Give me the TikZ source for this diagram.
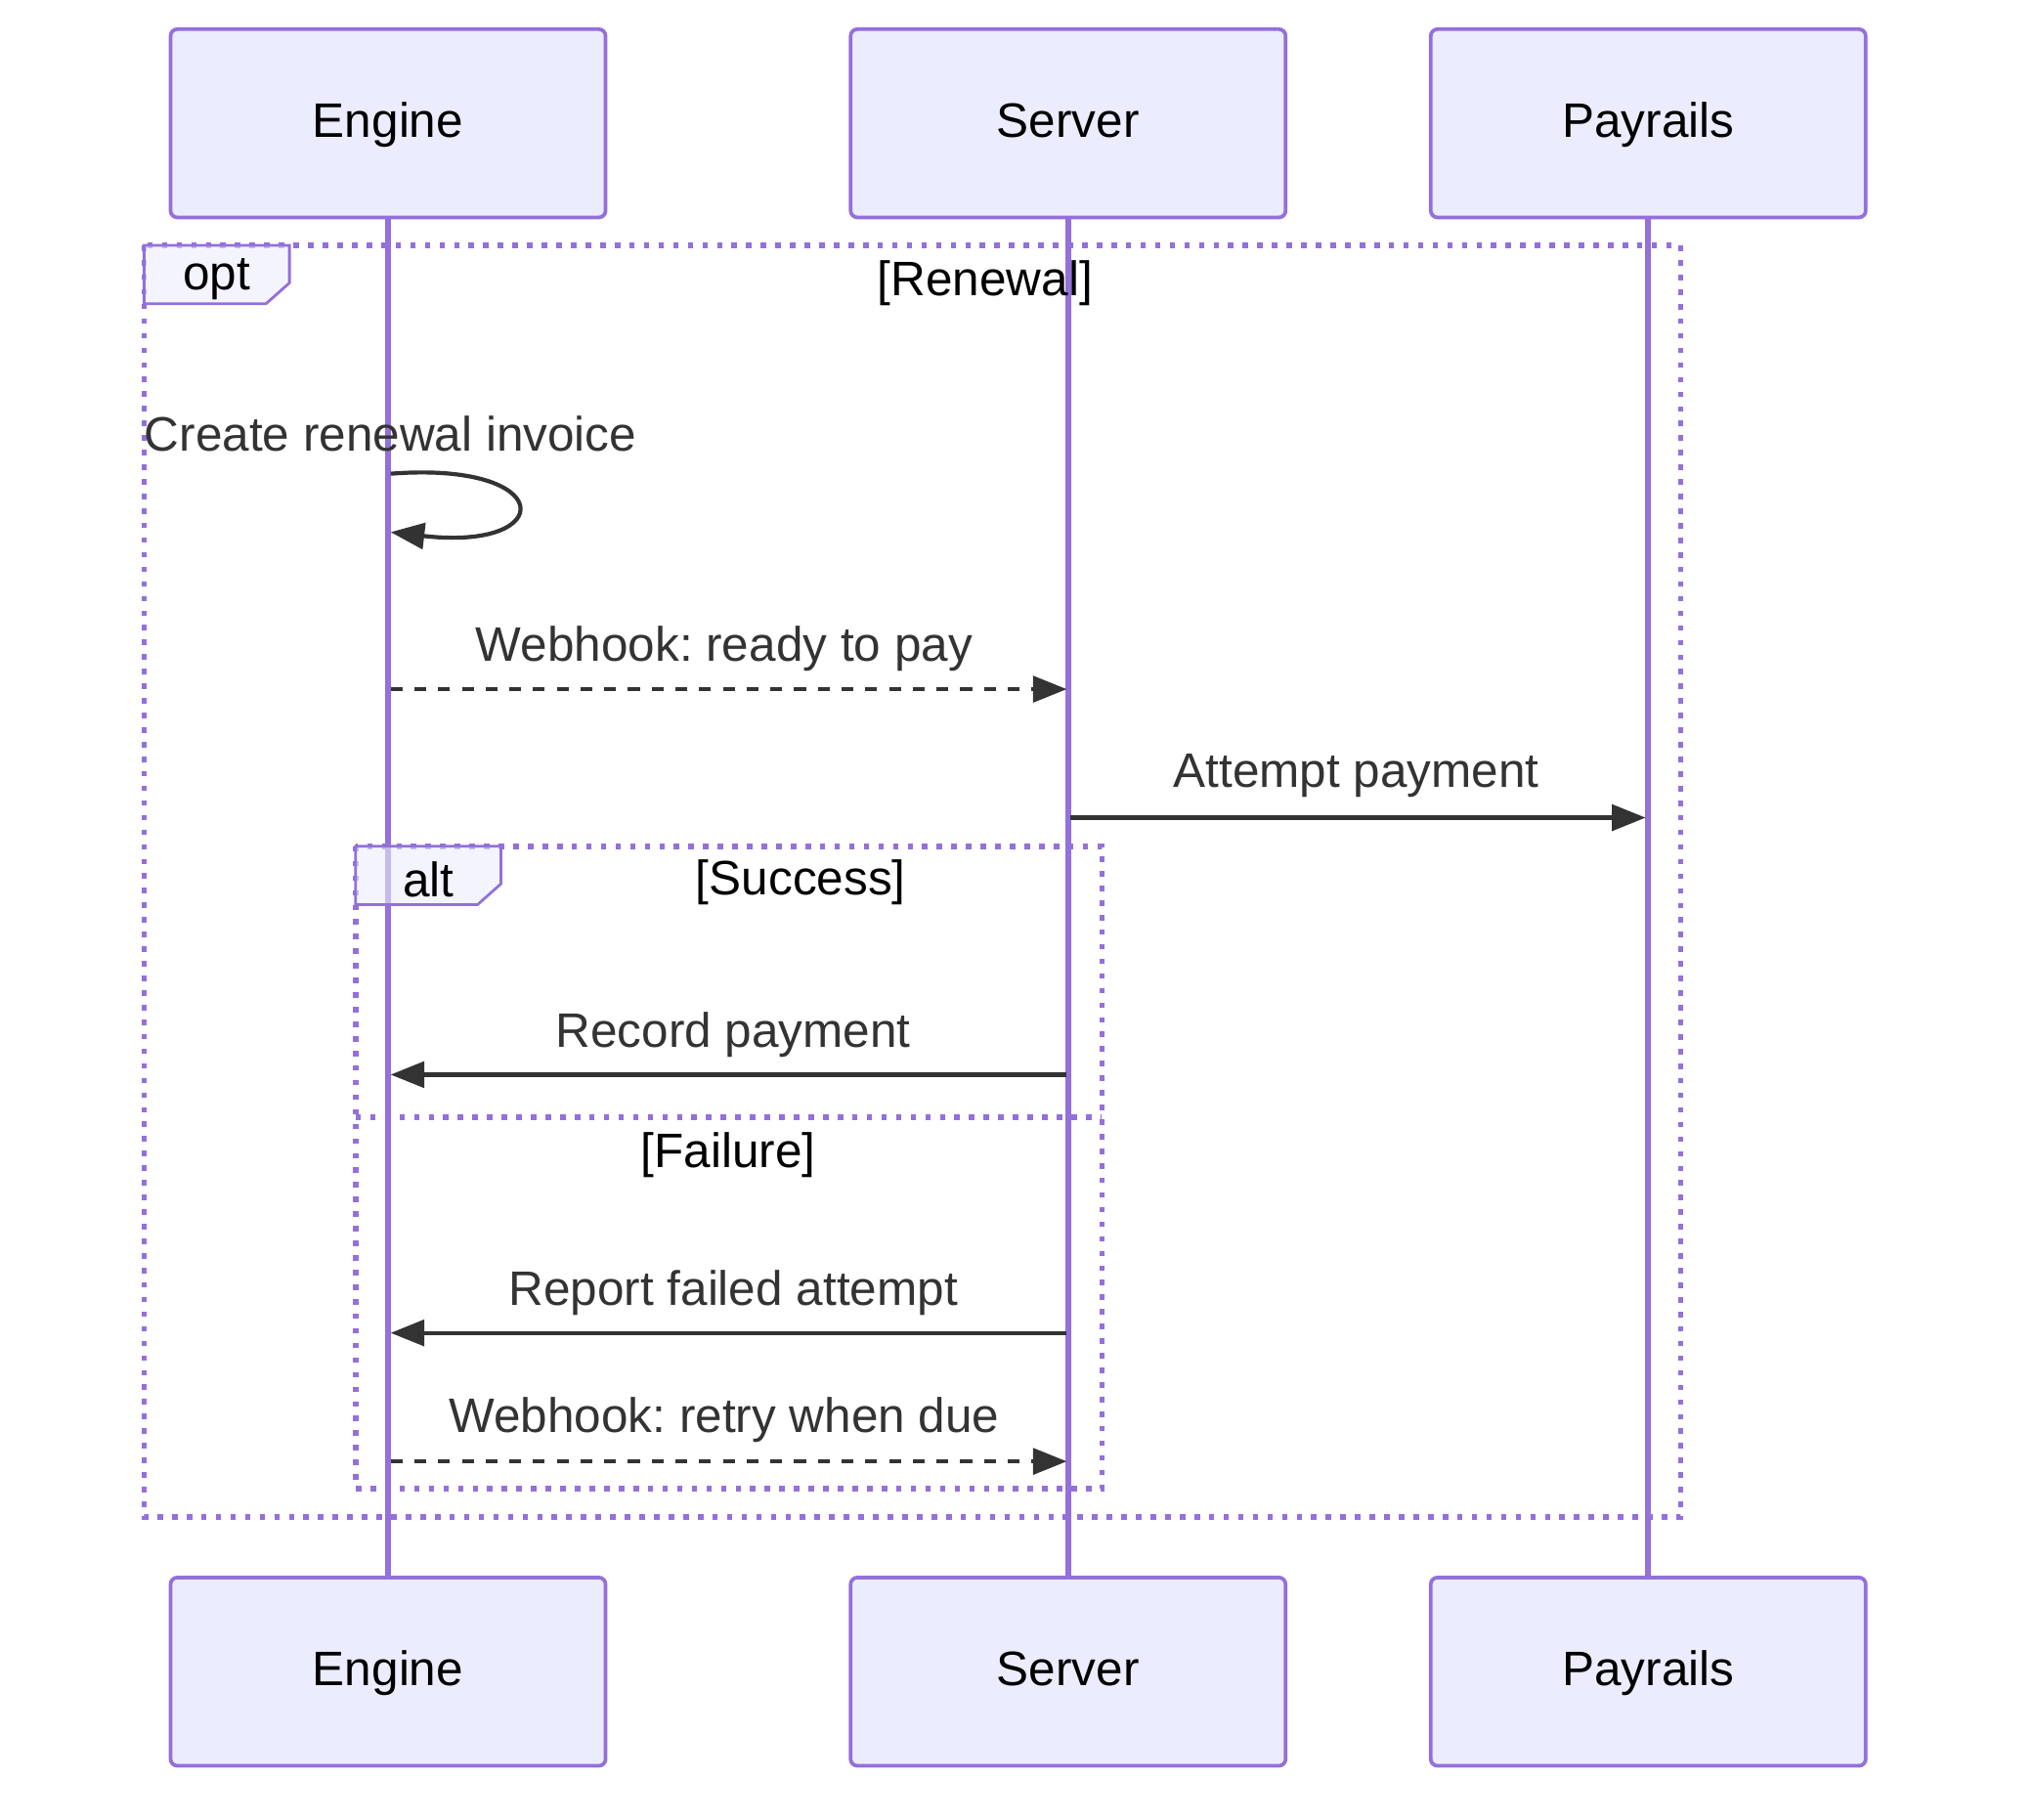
\documentclass[tikz,border=0pt]{standalone}
\usepackage{fontspec}
\setmainfont{Liberation Sans}
\usetikzlibrary{arrows.meta, positioning, calc}
\definecolor{lav}{HTML}{ECECFF}
\definecolor{purp}{HTML}{9370DB}
\definecolor{ink}{HTML}{333333}
\frenchspacing

\begin{document}
\begin{tikzpicture}[
        x=0.01cm, y=-0.01cm,
        actor/.style={rectangle, draw=purp, fill=lav, line width=0.8pt, rounded corners=1.5pt,
                      minimum width=3.35cm, minimum height=1.45cm, text height=1.6ex, text depth=0.45ex,
                      font=\fontsize{10.6}{13}\selectfont},
        life/.style={draw=purp, line width=1.3pt},
        frame/.style={draw=purp, line width=1.2pt, dotted},
        msg/.style={draw=ink, line width=0.9pt, -{Triangle[length=0.26cm, width=0.2cm]}},
        dashline/.style={dash pattern=on 2.6pt off 2.6pt},
        lbl/.style={text=ink, font=\fontsize{10.6}{13}\selectfont},
        guard/.style={font=\fontsize{10.6}{13}\selectfont}
    ]
    \useasboundingbox (0,0) rectangle (1568,1402);

    % Define the actors
    \node[actor] (engT) at (299,95) {Engine};
    \node[actor] (srvT) at (823,95) {Server};
    \node[actor] (payT) at (1270,95) {Payrails};
    \node[actor] (engB) at (299,1288) {Engine};
    \node[actor] (srvB) at (823,1288) {Server};
    \node[actor] (payB) at (1270,1288) {Payrails};

    % Draw the lifelines
    \draw[life] (engT) -- (engB);
    \draw[life] (srvT) -- (srvB);
    \draw[life] (payT) -- (payB);

    % Define the frames
    \draw[frame] (111,189) rectangle (1295,1169);
    \draw[draw=purp, fill=lav, fill opacity=0.6, line width=0.6pt] (111,189) -- (223,189) -- (223,218) -- (205,234) -- (111,234) -- cycle;
    \node[guard] (optTag) at (167,215) {opt};
    \node[guard] (optCond) at (759,218) {[Renewal]};

    \draw[frame] (274,652) rectangle (849,1147);
    \draw[frame] (274,861) -- (849,861);
    \draw[draw=purp, fill=lav, fill opacity=0.6, line width=0.6pt] (274,652) -- (386,652) -- (386,681) -- (368,697) -- (274,697) -- cycle;
    \node[guard] (altTag) at (330,678) {alt};
    \node[guard] (altOk) at (617,680) {[Success]};
    \node[guard] (altFail) at (561,890) {[Failure]};

    % Define the message ends
    \coordinate (e1) at (301,365);
    \coordinate (e2) at (301,410);
    \coordinate (e3) at (301,531);
    \coordinate (s3) at (822,531);
    \coordinate (s4) at (825,630);
    \coordinate (p4) at (1268,630);
    \coordinate (s5) at (822,828);
    \coordinate (e5) at (301,828);
    \coordinate (s6) at (822,1027);
    \coordinate (e6) at (301,1027);
    \coordinate (e7) at (301,1126);
    \coordinate (s7) at (822,1126);

    % Draw the messages
    \node[lbl] (m1) at (301,334) {Create renewal invoice};
    \draw[msg] (e1) .. controls (430,355) and (430,425) .. (e2);

    \node[lbl] (m2) at (558,500) {Webhook: ready to pay};
    \draw[msg, dashline] (e3) -- (s3);

    \node[lbl] (m3) at (1045,598) {Attempt payment};
    \draw[msg] (s4) -- (p4);

    \node[lbl] (m4) at (565,797) {Record payment};
    \draw[msg] (s5) -- (e5);

    \node[lbl] (m5) at (565,996) {Report failed attempt};
    \draw[msg] (s6) -- (e6);

    \node[lbl] (m6) at (558,1094) {Webhook: retry when due};
    \draw[msg, dashline] (e7) -- (s7);
\end{tikzpicture}
\end{document}
